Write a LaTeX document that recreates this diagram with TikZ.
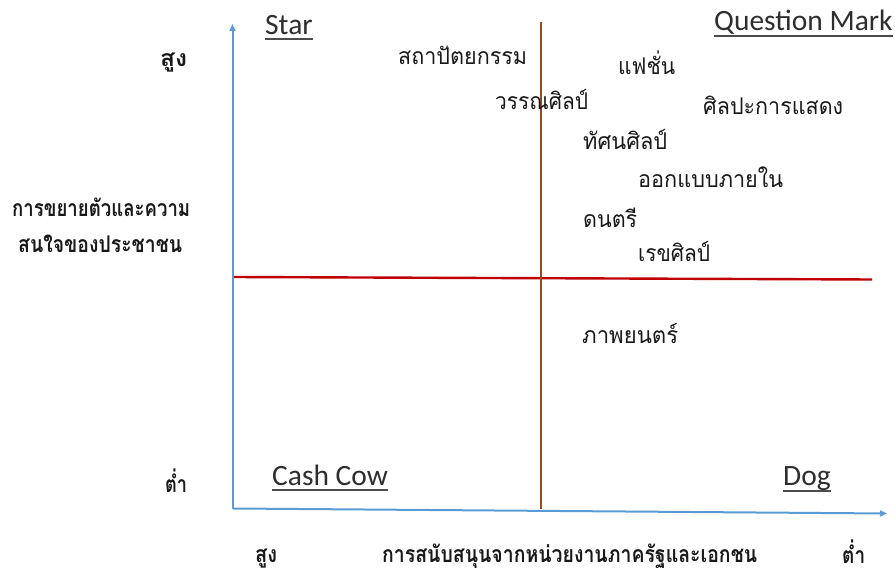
\documentclass[tikz,border=0pt]{standalone}
\usepackage{fontspec}
\usetikzlibrary{arrows.meta}
\newfontfamily\thaifont[Script=Thai]{Loma}
\newfontfamily\engfont{Carlito}
\definecolor{axisblue}{HTML}{5B9BD5}
\definecolor{divred}{HTML}{C00000}
\definecolor{divbrown}{HTML}{9C4A1A}
\newcommand{\fitw}[2]{\resizebox{#1pt}{\height}{#2}}
\begin{document}
\begin{tikzpicture}[x=1pt,y=-1pt,
 item/.style={anchor=base west,inner sep=0pt,font=\thaifont\fontsize{23}{23}\selectfont,text=black!90},
 axlab/.style={anchor=base west,inner sep=0pt,font=\thaifont\bfseries\fontsize{23}{23}\selectfont,text=black!90},
 quad/.style={anchor=base west,inner sep=0pt,font=\engfont\fontsize{29.5}{29.5}\selectfont,text=black!82},
 ul/.style={line width=1.8pt,black!70},
 axis/.style={line width=2pt,axisblue,-{Triangle[length=7pt,width=6pt]}},
 divider/.style={line width=2.4pt}]
\useasboundingbox (0,0) rectangle (895,572);
% axes and dividers
\coordinate (o) at (232.5,508.5);
\coordinate (ytip) at (232.5,24);
\coordinate (xo) at (233.5,508.5);
\coordinate (xtip) at (887,513.5);
\coordinate (rl) at (233,277);
\coordinate (rr) at (872,279.5);
\coordinate (bt) at (541,22);
\coordinate (bb) at (541,509);
\draw[divider,divred] (rl) -- (rr);
\draw[divider,divbrown] (bt) -- (bb);
\draw[axis] (o) -- (ytip);
\draw[axis] (xo) -- (xtip);
% quadrant titles
\node[quad] (star) at (265,35) {Star};
\node[quad] (qm) at (714,31) {Question Mark};
\node[quad] (cc) at (272,485) {Cash Cow};
\node[quad] (dog) at (783,485) {Dog};
\foreach \n/\d in {star/4,qm/5,cc/5,dog/6}
  \draw[ul] ([yshift=-\d pt]\n.base west) -- ([yshift=-\d pt]\n.base east);
% items
\node[item] (arch) at (398,65) {\fitw{129}{สถาปัตยกรรม}};
\node[item] (fash) at (618,75) {\fitw{57}{แฟชั่น}};
\node[item] (lit) at (495,110) {\fitw{93}{วรรณศิลป์}};
\node[item] (perf) at (703,115) {\fitw{140}{ศิลปะการแสดง}};
\node[item] (vis) at (583,150) {\fitw{84}{ทัศนศิลป์}};
\node[item] (inter) at (638,188) {\fitw{145}{ออกแบบภายใน}};
\node[item] (music) at (583,228) {\fitw{54}{ดนตรี}};
\node[item] (graph) at (638,262) {\fitw{72}{เรขศิลป์}};
\node[item] (film) at (582,343) {\fitw{96}{ภาพยนตร์}};
% axis labels
\node[axlab] (yhi) at (160,67) {\fitw{27}{สูง}};
\node[axlab] (ytitle1) at (12,217) {\fitw{178}{การขยายตัวและความ}};
\node[axlab] (ytitle2) at (18,253) {\fitw{164}{สนใจของประชาชน}};
\node[axlab] (ylo) at (165,492) {\fitw{22}{ต่ำ}};
\node[axlab] (xhi) at (255,562) {\fitw{22}{สูง}};
\node[axlab] (xtitle) at (382,562) {\fitw{375}{การสนับสนุนจากหน่วยงานภาครัฐและเอกชน}};
\node[axlab] (xlo) at (842,563) {\fitw{23}{ต่ำ}};
\end{tikzpicture}
\end{document}
